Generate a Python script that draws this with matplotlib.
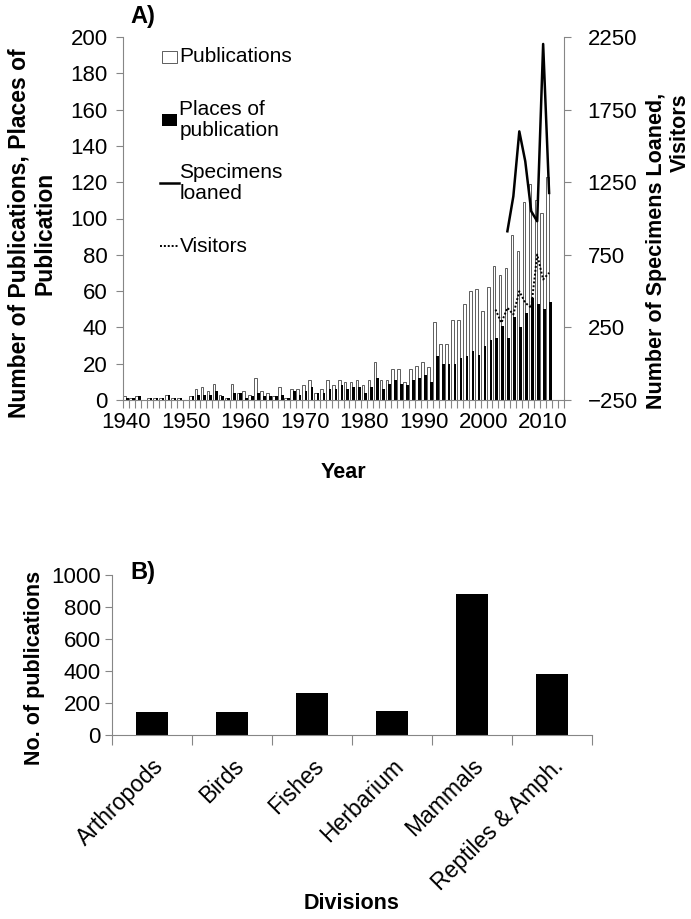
import matplotlib
matplotlib.use("Agg")
import matplotlib.pyplot as plt
from matplotlib.patches import Rectangle
from matplotlib.lines import Line2D

plt.rcParams["font.family"] = ["Liberation Sans", "DejaVu Sans"]

#----------------------------------------------------------------------------------------------------
# Data
#----------------------------------------------------------------------------------------------------
years = list(range(1940, 2014))          # category axis, 2012-2013 are empty slots
publications = [2, 1, 2, 0, 1, 1, 1, 3, 1, 1, 0, 2,
                6, 7, 5, 9, 3, 1, 9, 4, 5, 3,
                12, 5, 4, 2, 7, 1, 6, 6, 8, 11,
                4, 6, 11, 8, 11, 10, 10, 11, 8, 11,
                21, 11, 11, 17, 17, 10, 17, 19, 21, 18,
                43, 31, 31, 44, 44, 53, 60, 61, 49, 62,
                74, 69, 73, 91, 82, 109, 119, 110, 103, 123]
places = [1, 1, 2, 0, 1, 1, 1, 3, 1, 1, 0, 2,
          3, 3, 3, 5, 2, 1, 4, 4, 1, 2,
          4, 2, 2, 2, 3, 1, 5, 3, 5, 7,
          4, 4, 6, 6, 8, 6, 7, 7, 4, 7,
          12, 6, 9, 11, 9, 8, 11, 12, 14, 10,
          24, 20, 20, 20, 23, 24, 27, 25, 30, 33,
          34, 41, 34, 46, 40, 48, 56, 53, 50, 54]
loan_years = list(range(2004, 2012))
specimens_loaned = [912, 1153, 1600, 1394, 1050, 981, 2202, 1176]
visitor_years = list(range(2002, 2012))
visitors = [373, 282, 385, 339, 499, 420, 385, 752, 580, 626]

divisions = ["Arthropods", "Birds", "Fishes", "Herbarium", "Mammals", "Reptiles & Amph."]
division_pubs = [142, 142, 264, 149, 879, 383]

grey = "#868686"
fs = 16      # tick labels
lfs = 15.5   # axis titles

fig = plt.figure(figsize=(6.91, 9.19), dpi=100)

#----------------------------------------------------------------------------------------------------
# Panel A
#----------------------------------------------------------------------------------------------------
ax = fig.add_axes([123 / 691, 1 - 400 / 919, 441 / 691, 363 / 919])
idx = list(range(len(publications)))
ax.bar([i - 0.225 for i in idx], publications, width=0.45, color="white",
       edgecolor="#444444", linewidth=0.6)
ax.bar([i + 0.225 for i in idx], places, width=0.45, color="black", linewidth=0)
ax.set_xlim(-0.5, len(years) - 0.5)
ax.set_ylim(0, 200)
ax.set_yticks(range(0, 201, 20))
dec = [i for i, y in enumerate(years) if y % 10 == 0]
ax.set_xticks(dec)
ax.set_xticklabels([str(years[i]) for i in dec])
ax.set_xticks([i - 0.5 for i in range(len(years) + 1)], minor=True)
ax.tick_params(axis="x", which="major", length=0, pad=9, labelsize=fs)
ax.tick_params(axis="x", which="minor", length=5.5, color=grey, width=0.8)
ax.tick_params(axis="y", length=5, color=grey, width=0.8, pad=6, labelsize=fs)
for s in ["top", "right"]:
    ax.spines[s].set_visible(False)
for s in ["left", "bottom"]:
    ax.spines[s].set_color(grey)
ax.set_xlabel("Year", fontsize=lfs, fontweight="bold")
ax.xaxis.set_label_coords(0.5, -0.17)
ax.set_ylabel("Number of Publications, Places of\nPublication", fontsize=16.5,
              fontweight="bold", multialignment="center")
ax.yaxis.set_label_coords(-0.15, 0.46)

ax2 = ax.twinx()
ax2.plot([years.index(y) for y in loan_years], specimens_loaned, color="black", lw=1.8)
ax2.plot([years.index(y) for y in visitor_years], visitors, color="black", lw=1.4,
         linestyle=(0, (1, 1)))
ax2.set_ylim(-250, 2250)
ax2.set_yticks(range(-250, 2251, 500))
ax2.tick_params(axis="y", length=5, color=grey, width=0.8, pad=12, labelsize=fs)
for s in ["top", "left", "bottom"]:
    ax2.spines[s].set_visible(False)
ax2.spines["right"].set_color(grey)
ax2.set_ylabel("Number of Specimens Loaned,\nVisitors", fontsize=lfs, fontweight="bold",
               multialignment="right")
ax2.yaxis.set_label_coords(1.185, 0.41)

# legend entries spread evenly, like the spreadsheet legend
leg_labels = ["Publications", "Places of\npublication", "Specimens\nloaned", "Visitors"]
leg_y = [0.945, 0.771, 0.598, 0.424]
hx0, hx1 = 0.088, 0.122
tr = ax2.transAxes
ax2.add_patch(Rectangle((hx0, leg_y[0] - 0.016), hx1 - hx0, 0.032, transform=tr,
                        facecolor="white", edgecolor="#444444", linewidth=0.6, clip_on=False))
ax2.add_patch(Rectangle((hx0, leg_y[1] - 0.016), hx1 - hx0, 0.032, transform=tr,
                        facecolor="black", clip_on=False))
ax2.add_line(Line2D([hx0 - 0.003, hx1 + 0.004], [leg_y[2]] * 2, transform=tr,
                    color="black", lw=1.8))
ax2.add_line(Line2D([hx0 - 0.003, hx1 + 0.004], [leg_y[3]] * 2, transform=tr,
                    color="black", lw=1.4, linestyle=(0, (1, 1))))
for lab, yy in zip(leg_labels, leg_y):
    ax2.text(hx1 + 0.006, yy, lab, transform=tr, fontsize=15, va="center", ha="left",
             linespacing=1.15)

fig.text(130 / 691, 1 - 16 / 919, "A)", fontsize=17, fontweight="bold", va="center")

#----------------------------------------------------------------------------------------------------
# Panel B
#----------------------------------------------------------------------------------------------------
bx = fig.add_axes([112 / 691, 1 - 735 / 919, 480 / 691, 160 / 919])
bx.bar(range(len(divisions)), division_pubs, width=0.4, color="black")
bx.set_xlim(-0.5, len(divisions) - 0.5)
bx.set_ylim(0, 1000)
bx.set_yticks(range(0, 1001, 200))
bx.set_xticks(range(len(divisions)))
bx.set_xticklabels(divisions, rotation=45, ha="right", rotation_mode="anchor")
bx.set_xticks([i - 0.5 for i in range(len(divisions) + 1)], minor=True)
bx.tick_params(axis="x", which="major", length=0, pad=14, labelsize=16.5)
bx.tick_params(axis="x", which="minor", length=7, color=grey, width=0.8)
bx.tick_params(axis="y", length=5, color=grey, width=0.8, pad=3, labelsize=fs)
for s in ["top", "right"]:
    bx.spines[s].set_visible(False)
for s in ["left", "bottom"]:
    bx.spines[s].set_color(grey)
bx.set_xlabel("Divisions", fontsize=lfs, fontweight="bold")
bx.xaxis.set_label_coords(0.5, -0.99)
bx.set_ylabel("No. of publications", fontsize=lfs, fontweight="bold")
bx.yaxis.set_label_coords(-0.14, 0.42)

fig.text(130 / 691, 1 - 572 / 919, "B)", fontsize=17, fontweight="bold", va="center")

fig.savefig("out.png", dpi=100)
